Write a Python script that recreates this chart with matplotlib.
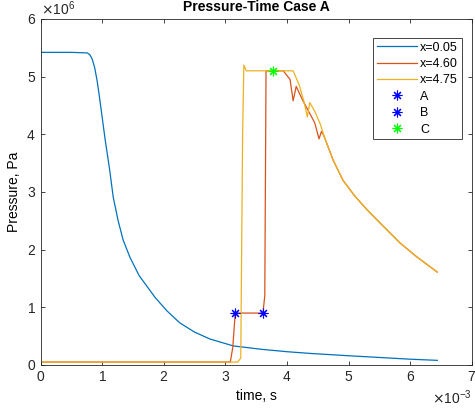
import matplotlib.pyplot as plt
from matplotlib.ticker import ScalarFormatter

# ----------------------------
# Data (time in s, pressure in Pa)
# ----------------------------
t_a = [0, 0.5e-3, 0.76e-3, 0.8e-3, 0.84e-3, 0.88e-3, 0.92e-3, 0.96e-3, 1.0e-3, 1.05e-3,
       1.12e-3, 1.18e-3, 1.26e-3, 1.34e-3, 1.45e-3, 1.6e-3, 1.86e-3, 2.05e-3, 2.26e-3,
       2.5e-3, 2.75e-3, 3.13e-3, 3.6e-3, 4.0e-3, 4.38e-3, 5.0e-3, 5.5e-3, 6.0e-3, 6.44e-3]
p_a = [5.42e6, 5.42e6, 5.41e6, 5.38e6, 5.3e6, 5.15e6, 4.92e6, 4.62e6, 4.3e6, 3.9e6,
       3.4e6, 2.91e6, 2.5e6, 2.17e6, 1.87e6, 1.55e6, 1.17e6, 0.94e6, 0.73e6,
       0.57e6, 0.45e6, 0.33e6, 0.27e6, 0.23e6, 0.2e6, 0.16e6, 0.13e6, 0.1e6, 0.08e6]

t_b = [0, 3.08e-3, 3.12e-3, 3.16e-3, 3.61e-3, 3.64e-3, 3.66e-3, 3.94e-3, 4.05e-3, 4.10e-3,
       4.15e-3, 4.25e-3, 4.35e-3, 4.45e-3, 4.52e-3, 4.56e-3, 4.6e-3, 4.75e-3, 4.91e-3,
       5.1e-3, 5.3e-3, 5.55e-3, 5.84e-3, 6.1e-3, 6.44e-3]
p_b = [0.05e6, 0.05e6, 0.3e6, 0.9e6, 0.9e6, 1.2e6, 5.1e6, 5.1e6, 4.95e6, 4.58e6,
       4.83e6, 4.6e6, 4.4e6, 4.2e6, 3.92e6, 4.05e6, 3.97e6, 3.55e6, 3.2e6,
       2.93e6, 2.69e6, 2.42e6, 2.11e6, 1.88e6, 1.61e6]

t_c = [0, 3.2e-3, 3.25e-3, 3.28e-3, 3.3e-3, 3.34e-3, 3.5e-3, 4.1e-3, 4.2e-3, 4.28e-3,
       4.33e-3, 4.37e-3, 4.45e-3, 4.55e-3, 4.6e-3, 4.75e-3, 4.91e-3, 5.1e-3, 5.3e-3,
       5.55e-3, 5.84e-3, 6.1e-3, 6.44e-3]
p_c = [0.05e6, 0.05e6, 0.12e6, 4.0e6, 5.2e6, 5.1e6, 5.1e6, 5.1e6, 4.85e6, 4.55e6,
       4.3e6, 4.55e6, 4.4e6, 4.15e6, 3.97e6, 3.55e6, 3.2e6, 2.93e6, 2.69e6,
       2.42e6, 2.11e6, 1.88e6, 1.61e6]

pt_A = (3.16e-3, 0.9e6)
pt_B = (3.61e-3, 0.9e6)
pt_C = (3.77e-3, 5.1e6)

# ----------------------------
# Plot styling
# ----------------------------
plt.rcParams.update(
    {
        "font.family": "Liberation Sans",
        "font.size": 10,
        "axes.edgecolor": "#262626",
        "axes.linewidth": 0.6,
        "xtick.color": "#262626",
        "ytick.color": "#262626",
        "xtick.direction": "in",
        "ytick.direction": "in",
        "xtick.top": True,
        "ytick.right": True,
    }
)

fig = plt.figure(figsize=(4.75, 4.11), dpi=100)
ax = fig.add_axes([0.0853, 0.112, 0.908, 0.842])

star = (8, 2, 0)  # asterisk like MATLAB '*'
ax.plot(t_a, p_a, color="#0072BD", linewidth=0.9, label="x=0.05")
ax.plot(t_b, p_b, color="#D95319", linewidth=0.9, label="x=4.60")
ax.plot(t_c, p_c, color="#EDB120", linewidth=0.9, label="x=4.75")
ax.plot(*pt_A, marker=star, color="blue", markersize=7, markeredgewidth=0.8,
        linestyle="none", label="A")
ax.plot(*pt_B, marker=star, color="blue", markersize=7, markeredgewidth=0.8,
        linestyle="none", label="B")
ax.plot(*pt_C, marker=star, color="#00FF00", markersize=7, markeredgewidth=0.8,
        linestyle="none", label="C")

ax.set_xlim(0, 7e-3)
ax.set_ylim(0, 6e6)
ax.set_xticks([i * 1e-3 for i in range(8)])
ax.set_yticks([i * 1e6 for i in range(7)])
for axis in (ax.xaxis, ax.yaxis):
    fmt = ScalarFormatter(useMathText=True)
    fmt.set_powerlimits((0, 0))
    axis.set_major_formatter(fmt)
ax.tick_params(length=3, width=0.6)

ax.set_title("Pressure-Time Case A", fontweight="bold", fontsize=10)
ax.set_xlabel("time, s")
ax.set_ylabel("Pressure, Pa")
ax.legend(loc="upper right", bbox_to_anchor=(0.977, 0.945), borderaxespad=0,
          fontsize=9, fancybox=False, edgecolor="#262626", framealpha=1,
          handlelength=3.2, handletextpad=0.3, labelspacing=0.35, borderpad=0.3)
ax.get_legend().get_frame().set_linewidth(0.6)

plt.savefig("out.png", dpi=100)
